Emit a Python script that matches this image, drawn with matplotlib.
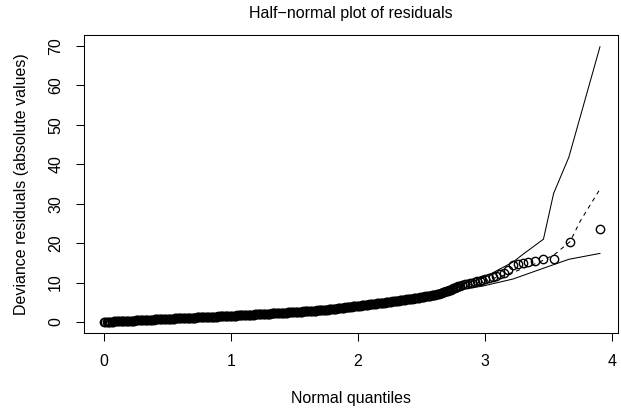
import matplotlib
matplotlib.use("Agg")
import matplotlib.pyplot as plt

plt.rcParams['font.family'] = ['Liberation Sans', 'DejaVu Sans']

# half-normal quantiles (x) and absolute deviance residuals (y)
quant = [
    0.00, 0.01, 0.02, 0.03, 0.04, 0.05, 0.06, 0.07, 0.08, 0.09,
    0.10, 0.11, 0.12, 0.13, 0.14, 0.15, 0.16, 0.17, 0.18, 0.19,
    0.20, 0.21, 0.22, 0.23, 0.24, 0.25, 0.26, 0.27, 0.28, 0.29,
    0.30, 0.31, 0.32, 0.33, 0.34, 0.35, 0.36, 0.37, 0.38, 0.39,
    0.40, 0.41, 0.42, 0.43, 0.44, 0.45, 0.46, 0.47, 0.48, 0.49,
    0.50, 0.51, 0.52, 0.53, 0.54, 0.55, 0.56, 0.57, 0.58, 0.59,
    0.60, 0.61, 0.62, 0.63, 0.64, 0.65, 0.66, 0.67, 0.68, 0.69,
    0.70, 0.71, 0.72, 0.73, 0.74, 0.75, 0.76, 0.77, 0.78, 0.79,
    0.80, 0.81, 0.82, 0.83, 0.84, 0.85, 0.86, 0.87, 0.88, 0.89,
    0.90, 0.91, 0.92, 0.93, 0.94, 0.95, 0.96, 0.97, 0.98, 0.99,
    1.00, 1.01, 1.02, 1.03, 1.04, 1.05, 1.06, 1.07, 1.08, 1.09,
    1.10, 1.11, 1.12, 1.13, 1.14, 1.15, 1.16, 1.17, 1.18, 1.19,
    1.20, 1.21, 1.22, 1.23, 1.24, 1.25, 1.26, 1.27, 1.28, 1.29,
    1.30, 1.31, 1.32, 1.33, 1.34, 1.35, 1.36, 1.37, 1.38, 1.39,
    1.40, 1.41, 1.42, 1.43, 1.44, 1.45, 1.46, 1.47, 1.48, 1.49,
    1.50, 1.51, 1.52, 1.53, 1.54, 1.55, 1.56, 1.57, 1.58, 1.59,
    1.60, 1.61, 1.62, 1.63, 1.64, 1.65, 1.66, 1.67, 1.68, 1.69,
    1.70, 1.71, 1.72, 1.73, 1.74, 1.75, 1.76, 1.77, 1.78, 1.79,
    1.80, 1.81, 1.82, 1.83, 1.84, 1.85, 1.86, 1.87, 1.88, 1.89,
    1.90, 1.91, 1.92, 1.93, 1.94, 1.95, 1.96, 1.97, 1.98, 1.99,
    2.00, 2.01, 2.02, 2.03, 2.04, 2.05, 2.06, 2.07, 2.08, 2.09,
    2.10, 2.11, 2.12, 2.13, 2.14, 2.15, 2.16, 2.17, 2.18, 2.19,
    2.20, 2.21, 2.22, 2.23, 2.24, 2.25, 2.26, 2.27, 2.28, 2.29,
    2.30, 2.31, 2.32, 2.33, 2.34, 2.35, 2.36, 2.37, 2.38, 2.39,
    2.40, 2.41, 2.42, 2.43, 2.44, 2.45, 2.46, 2.47, 2.48, 2.49,
    2.50, 2.51, 2.52, 2.53, 2.54, 2.55, 2.56, 2.57, 2.58, 2.59,
    2.60, 2.61, 2.62, 2.63, 2.64, 2.65, 2.66, 2.67, 2.68, 2.69,
    2.70, 2.71, 2.72, 2.73, 2.74, 2.75, 2.76, 2.77, 2.78, 2.79,
    2.80, 2.82, 2.84, 2.86, 2.88, 2.90, 2.92, 2.94, 2.96, 2.98,
    3.00, 3.03, 3.06, 3.09, 3.12, 3.15, 3.18, 3.22, 3.26, 3.30,
    3.34, 3.39, 3.46, 3.54, 3.67, 3.905,
]
resid = [
    0.00, 0.02, 0.03, 0.05, 0.06, 0.08, 0.10, 0.12, 0.13, 0.15,
    0.16, 0.18, 0.19, 0.21, 0.22, 0.24, 0.26, 0.28, 0.29, 0.31,
    0.32, 0.34, 0.35, 0.37, 0.38, 0.40, 0.42, 0.44, 0.45, 0.47,
    0.48, 0.50, 0.51, 0.53, 0.54, 0.56, 0.58, 0.60, 0.61, 0.63,
    0.64, 0.66, 0.67, 0.69, 0.70, 0.72, 0.74, 0.76, 0.77, 0.79,
    0.80, 0.82, 0.83, 0.85, 0.86, 0.88, 0.89, 0.91, 0.92, 0.94,
    0.95, 0.97, 0.98, 1.00, 1.01, 1.03, 1.04, 1.06, 1.07, 1.09,
    1.10, 1.12, 1.13, 1.15, 1.16, 1.18, 1.19, 1.21, 1.22, 1.24,
    1.25, 1.27, 1.28, 1.30, 1.31, 1.33, 1.34, 1.36, 1.37, 1.39,
    1.40, 1.42, 1.43, 1.45, 1.46, 1.48, 1.49, 1.51, 1.52, 1.54,
    1.55, 1.57, 1.59, 1.61, 1.63, 1.65, 1.66, 1.68, 1.70, 1.72,
    1.74, 1.76, 1.78, 1.80, 1.82, 1.84, 1.85, 1.87, 1.89, 1.91,
    1.93, 1.95, 1.97, 1.99, 2.01, 2.03, 2.04, 2.06, 2.08, 2.10,
    2.12, 2.14, 2.16, 2.18, 2.20, 2.22, 2.23, 2.25, 2.27, 2.29,
    2.31, 2.33, 2.35, 2.37, 2.39, 2.41, 2.42, 2.44, 2.46, 2.48,
    2.50, 2.53, 2.55, 2.58, 2.60, 2.62, 2.64, 2.67, 2.69, 2.72,
    2.74, 2.77, 2.79, 2.82, 2.84, 2.86, 2.88, 2.91, 2.93, 2.96,
    2.98, 3.01, 3.03, 3.06, 3.08, 3.11, 3.14, 3.18, 3.22, 3.26,
    3.30, 3.34, 3.38, 3.42, 3.46, 3.50, 3.54, 3.58, 3.62, 3.66,
    3.70, 3.74, 3.78, 3.82, 3.86, 3.90, 3.94, 3.98, 4.02, 4.06,
    4.10, 4.14, 4.18, 4.22, 4.26, 4.30, 4.34, 4.38, 4.42, 4.46,
    4.50, 4.54, 4.58, 4.62, 4.66, 4.70, 4.74, 4.78, 4.82, 4.86,
    4.90, 4.94, 4.98, 5.02, 5.06, 5.10, 5.15, 5.20, 5.24, 5.29,
    5.34, 5.39, 5.44, 5.48, 5.53, 5.58, 5.63, 5.67, 5.72, 5.77,
    5.82, 5.87, 5.92, 5.96, 6.01, 6.06, 6.11, 6.15, 6.20, 6.25,
    6.30, 6.36, 6.42, 6.48, 6.54, 6.60, 6.66, 6.72, 6.78, 6.84,
    6.90, 6.97, 7.04, 7.12, 7.20, 7.30, 7.40, 7.51, 7.62, 7.74,
    7.86, 7.98, 8.11, 8.24, 8.37, 8.50, 8.63, 8.76, 8.89, 9.02,
    9.15, 9.35, 9.55, 9.70, 9.85, 10.00, 10.15, 10.30, 10.50, 10.70,
    10.85, 11.10, 11.40, 11.70, 12.10, 12.50, 13.10, 14.50, 14.80, 15.00,
    15.20, 15.40, 16.00, 16.10, 20.30, 23.50,
]

# simulated envelope: lower bound, median, upper bound
lower_x = [0, 0.5, 1.0, 1.5, 2.0, 2.5, 2.8, 2.98, 3.22, 3.43, 3.66, 3.905]
lower_y = [0, 0.75, 1.45, 2.35, 3.9, 5.9, 8.2, 9.1, 10.9, 13.3, 15.9, 17.4]
median_x = [0, 0.5, 1.0, 1.5, 2.0, 2.5, 2.8, 3.0, 3.22, 3.43, 3.55, 3.67, 3.75, 3.905]
median_y = [0.0, 0.8, 1.55, 2.5, 4.1, 6.3, 8.9, 10.4, 12.6, 15.2, 17.2, 20.4, 25.6, 33.7]
upper_x = [0, 0.5, 1.0, 1.5, 2.0, 2.5, 2.8, 2.98, 3.22, 3.30, 3.38, 3.46, 3.54, 3.66, 3.905]
upper_y = [0.1, 0.9, 1.7, 2.7, 4.4, 6.7, 9.4, 11.1, 15.2, 17.2, 19.1, 21.0, 32.6, 41.8, 69.8]

xticks = [0, 1, 2, 3, 4]
yticks = [0, 10, 20, 30, 40, 50, 60, 70]

fig = plt.figure(figsize=(6.21, 4.09), dpi=100)
ax = fig.add_axes([84 / 621, 1 - 333 / 409, 534 / 621, 298 / 409])

ax.plot(quant, resid, linestyle='none', marker='o', markersize=6.0,
        markerfacecolor='none', markeredgecolor='black', markeredgewidth=1.0)
ax.plot(lower_x, lower_y, color='black', linewidth=0.75)
ax.plot(upper_x, upper_y, color='black', linewidth=0.75)
ax.plot(median_x, median_y, color='black', linewidth=0.75, dashes=(4, 4))

# R style 4% padding
ax.set_xlim(-0.1575, 4.047)
ax.set_ylim(-2.79, 72.79)
ax.set_xticks(xticks)
ax.set_yticks(yticks)
ax.tick_params(direction='out', length=6, width=0.75, labelsize=11.5, pad=9)
for lab in ax.get_yticklabels():
    lab.set_rotation(90)
    lab.set_va('center')
for s in ax.spines.values():
    s.set_linewidth(0.75)

ax.set_xlabel('Normal quantiles', fontsize=11.5, labelpad=16)
ax.set_ylabel('Deviance residuals (absolute values)', fontsize=11.5, labelpad=14)
ax.set_title('Half\u2212normal plot of residuals', fontsize=11.5, pad=12)

fig.savefig('out.png', dpi=100)
